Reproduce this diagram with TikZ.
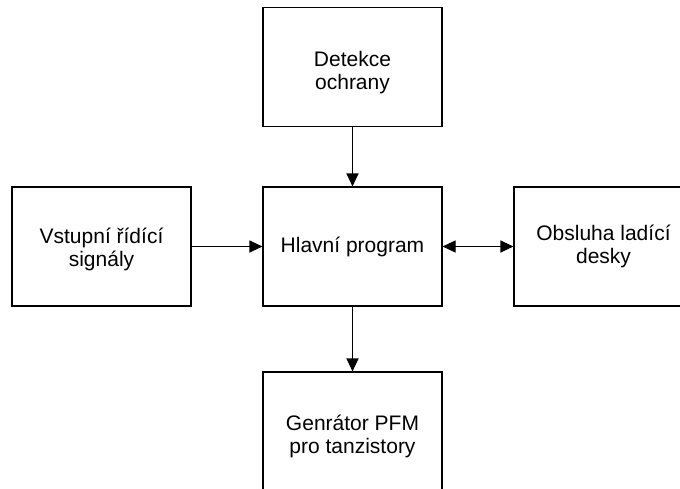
\documentclass[tikz,border=0pt]{standalone}
\usepackage{fontspec}
\setmainfont{Liberation Sans}
\usetikzlibrary{arrows.meta}

\tikzset{
  blok/.style={draw, line width=1.1pt, minimum width=179pt, minimum height=119pt,
    align=center, font=\fontsize{21}{23}\selectfont},
  sipka/.style={line width=1.1pt, ->}
}

\begin{document}
\begin{tikzpicture}[x=1pt,y=-1pt, >={Triangle[length=13pt,width=12pt]}]
\useasboundingbox (0,0) rectangle (680,488);

% Detekce
\node[blok] (detekce) at (352.5,67)
{\rule{0pt}{27pt}Detekce\\ochrany};

% Hlavni program
\node[blok] (hlavni) at (352.5,246.5)
{Hlavní program};

% Vstupy
\node[blok] (vstup) at (101.5,246.5)
{\rule{0pt}{21pt}Vstupní řídící\\signály};

% Ladici deska
\node[blok] (deska) at (603.5,246.5)
{Obsluha ladící\\desky};

% Generator
\node[blok] (generator) at (352.5,431.5)
{\rule{0pt}{25pt}Genrátor PFM\\pro tanzistory};

%--------------------------------------------------
% Spoje
%--------------------------------------------------
\draw[sipka] (detekce) -- (hlavni);
\draw[sipka] (vstup) -- (hlavni);
\draw[sipka, <->] (hlavni) -- (deska);
\draw[sipka] (hlavni) -- (generator);

\end{tikzpicture}
\end{document}
